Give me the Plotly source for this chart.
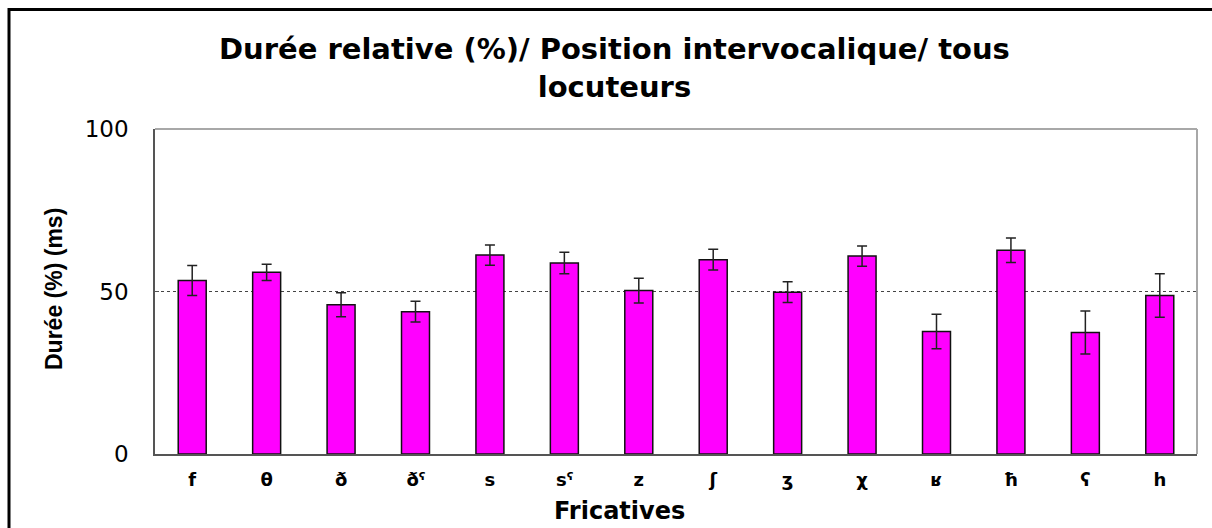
import plotly.graph_objects as go

# Relative duration (%) of fricatives in intervocalic position, all speakers
fricatives = ["f", "θ", "ð", "ðˤ", "s", "sˤ", "z", "ʃ", "ʒ", "χ", "ʁ", "ħ", "ʕ", "h"]
duree = [53.4, 55.9, 45.9, 43.8, 61.2, 58.8, 50.3, 59.8, 49.8, 60.9, 37.7, 62.7, 37.4, 48.8]
ecart = [4.6, 2.5, 3.7, 3.2, 3.1, 3.3, 3.8, 3.2, 3.2, 3.1, 5.3, 3.8, 6.6, 6.7]
y_ticks = [0, 50, 100]
reference_line = 50

W, H = 1212, 528
L, R, T, B = 155, 15, 129, 74
pw, ph = W - L - R, H - T - B


def px_x(x):
    return (x - L) / pw


def px_y(y):
    return (H - B - y) / ph


fig = go.Figure()
fig.add_trace(go.Bar(
    x=fricatives,
    y=duree,
    marker=dict(color="#FF00FF", line=dict(color="#111111", width=1.5)),
    error_y=dict(type="data", array=ecart, visible=True,
                 color="#222222", thickness=1.5, width=5),
    hoverinfo="x+y",
))

# dashed 50 % reference line behind the bars
fig.add_shape(type="line", xref="paper", yref="y", x0=0, x1=1,
              y0=reference_line, y1=reference_line, layer="below",
              line=dict(color="#444444", width=1.2, dash="3px,3px"))

# top and right edges of the plot frame
fig.add_shape(type="line", xref="paper", yref="paper", x0=0, x1=1, y0=1, y1=1,
              line=dict(color="#a8a8a8", width=2))
fig.add_shape(type="line", xref="paper", yref="paper", x0=1, x1=1, y0=0, y1=1,
              line=dict(color="#a8a8a8", width=2))

# outer chart border (open towards the right and bottom edges)
fig.add_shape(type="line", xref="paper", yref="paper",
              x0=px_x(9), x1=px_x(1400), y0=px_y(9.5), y1=px_y(9.5),
              line=dict(color="#000000", width=3))
fig.add_shape(type="line", xref="paper", yref="paper",
              x0=px_x(9), x1=px_x(9), y0=px_y(8), y1=px_y(700),
              line=dict(color="#000000", width=3))

fig.add_annotation(
    text="<b>Durée relative (%)/ Position intervocalique/ tous<br>locuteurs</b>",
    xref="paper", yref="paper", x=px_x(614), y=px_y(68),
    xanchor="center", yanchor="middle", showarrow=False,
    font=dict(family="DejaVu Sans", size=29, color="#000000"),
)
fig.add_annotation(
    text="<b>Fricatives</b>", xref="paper", yref="paper",
    x=px_x(619), y=px_y(511), xanchor="center", yanchor="middle",
    showarrow=False, font=dict(family="DejaVu Sans", size=24, color="#000000"),
)
fig.add_annotation(
    text="<b>Durée (%) (ms)</b>", xref="paper", yref="paper",
    x=px_x(54), y=px_y(289), xanchor="center", yanchor="middle",
    textangle=-90, showarrow=False,
    font=dict(family="Liberation Sans", size=23, color="#000000"),
)

fig.update_layout(
    width=W, height=H,
    margin=dict(l=L, r=R, t=T, b=B),
    paper_bgcolor="white", plot_bgcolor="white",
    bargap=0.624, showlegend=False,
)

fig.update_xaxes(
    showline=True, linecolor="#555555", linewidth=1.5,
    ticks="", showgrid=False,
    tickfont=dict(family="DejaVu Sans", size=18, color="#000000", weight="bold"),
    ticklabelstandoff=9,
)
fig.update_yaxes(
    range=[0, 100], tickvals=y_ticks, showline=True,
    linecolor="#555555", linewidth=1.5, ticks="inside", ticklen=4,
    tickcolor="#555555", showgrid=False, zeroline=False,
    tickfont=dict(family="DejaVu Sans", size=23, color="#000000"),
    ticklabelstandoff=20,
)

fig.write_html("out.html")
